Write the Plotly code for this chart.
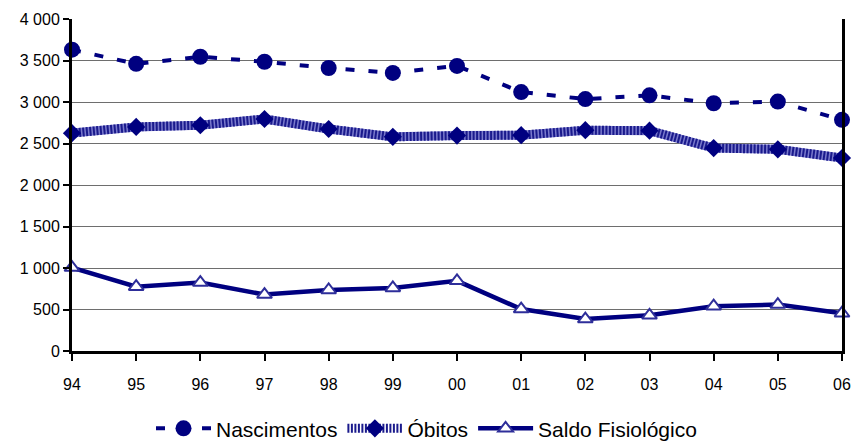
import plotly.graph_objects as go

# Anos (dois dígitos) e séries demográficas
anos = ["94", "95", "96", "97", "98", "99", "00", "01", "02", "03", "04", "05", "06"]
nascimentos = [3630, 3460, 3545, 3485, 3410, 3350, 3435, 3120, 3035, 3080, 2985, 3005, 2785]
obitos = [2625, 2700, 2720, 2795, 2675, 2580, 2595, 2600, 2660, 2655, 2445, 2430, 2325]
saldo = [1005, 775, 825, 680, 735, 760, 845, 505, 385, 430, 540, 560, 455]

y_ticks = [0, 500, 1000, 1500, 2000, 2500, 3000, 3500, 4000]
y_tick_text = ["0", "500", "1 000", "1 500", "2 000", "2 500", "3 000", "3 500", "4 000"]

NAVY = "#000080"

fig = go.Figure()

# Nascimentos: linha tracejada com círculos
fig.add_trace(go.Scatter(
    x=anos, y=nascimentos, name="Nascimentos", mode="lines+markers",
    line=dict(color=NAVY, width=4, dash="9px,14px"),
    marker=dict(symbol="circle", size=16, color=NAVY),
    cliponaxis=False,
))

# Óbitos: faixa larga listrada (fundo claro + traço curto escuro por cima)
fig.add_trace(go.Scatter(
    x=anos, y=obitos, name="Óbitos_fundo", mode="lines", showlegend=False,
    line=dict(color="#7a7acc", width=9), hoverinfo="skip",
))
fig.add_trace(go.Scatter(
    x=anos, y=obitos, name="Óbitos", mode="lines+markers",
    line=dict(color="#1a1a8c", width=9, dash="2px,1.5px"),
    marker=dict(symbol="diamond", size=14, color=NAVY),
    cliponaxis=False,
))

# Saldo fisiológico: linha contínua com triângulos abertos
fig.add_trace(go.Scatter(
    x=anos, y=saldo, name="Saldo Fisiológico", mode="lines+markers",
    line=dict(color=NAVY, width=4.5),
    marker=dict(symbol="triangle-up", size=13, color="white",
                line=dict(color="#2e2e9a", width=2)),
    cliponaxis=False,
))

fig.update_layout(
    width=853, height=441,
    margin=dict(l=72, r=11, t=19, b=90, autoexpand=False),
    paper_bgcolor="white", plot_bgcolor="white",
    font=dict(family="Liberation Sans, Arial, sans-serif", size=16, color="black"),
    showlegend=True,
    legend=dict(orientation="h", xref="container", x=0.5, xanchor="center",
                yref="container", y=0.028, yanchor="middle",
                font=dict(size=21), itemwidth=55, tracegroupgap=0),
    xaxis=dict(
        type="category", range=[0, len(anos) - 1],
        showline=True, linecolor="black", linewidth=3,
        ticks="outside", ticklen=7, tickwidth=2, tickcolor="black",
        ticklabelstandoff=10,
        showgrid=False, zeroline=False, automargin=False,
    ),
    yaxis=dict(
        range=[0, 4000], tickvals=y_ticks, ticktext=y_tick_text,
        showline=True, linecolor="black", linewidth=3, mirror=True,
        ticks="outside", ticklen=6, tickwidth=2, tickcolor="black",
        showgrid=True, gridcolor="#6e6e6e", gridwidth=1.2, zeroline=False,
        automargin=False,
    ),
)

fig.write_html("out.html")
